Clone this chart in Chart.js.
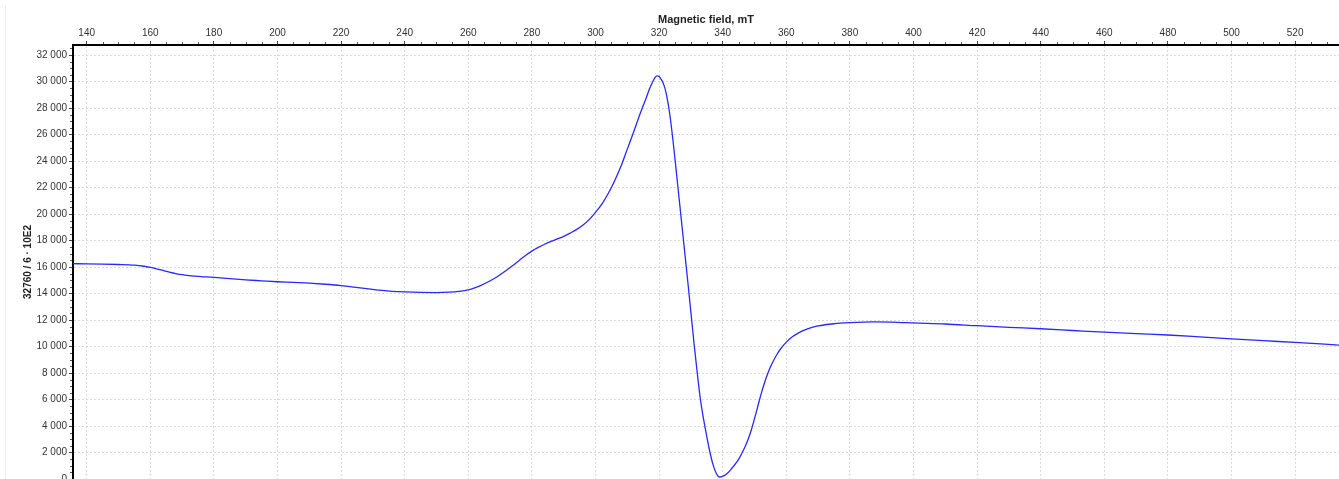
<!DOCTYPE html>
<html>
<head>
<meta charset="utf-8">
<title>EPR spectrum</title>
<script src="https://cdn.jsdelivr.net/npm/chart.js@4/dist/chart.umd.min.js"></script>
<style>
  html, body { margin: 0; padding: 0; background: #ffffff; overflow: hidden; }
  canvas { display: block; }
</style>
</head>
<body>
<canvas id="spectrum" width="1339" height="479"></canvas>
<script>
// Magnetic field sweep (mT) and recorded signal
const fieldMT = [
  135.7, 140, 145, 150, 155, 158, 160, 162, 164, 166, 168, 170, 173, 176, 180, 185,
  190, 195, 200, 205, 210, 215, 220, 224, 228, 232, 236, 240, 245, 250, 254, 257,
  260, 262, 264, 266, 268, 270, 272, 274, 276, 278, 280, 282, 284, 286, 288, 290,
  292, 294, 296, 298, 300, 302, 304, 306, 308, 310, 312, 314, 316, 317, 318, 318.7,
  319.3, 320, 320.7, 321.5, 322.2, 322.9, 323.6, 324.3, 325, 326, 327, 328, 329, 330,
  331, 332, 333, 334, 335, 336, 337, 338, 339, 340, 341, 342, 343, 344, 345, 346,
  347, 348, 349, 350, 351, 352, 353, 354, 355, 356, 357, 358.3, 360, 362, 364, 366.7,
  370, 375, 380, 387.6, 395, 400, 410, 420, 430, 440, 450, 460, 470, 480, 490, 500,
  510, 520, 533.8
];
const signal = [
  16250, 16240, 16220, 16190, 16140, 16060, 15970, 15860, 15740, 15620, 15510, 15420, 15330, 15280, 15220, 15120,
  15030, 14960, 14890, 14840, 14780, 14700, 14600, 14490, 14370, 14250, 14170, 14120, 14080, 14070, 14100, 14160,
  14270, 14420, 14620, 14850, 15120, 15420, 15760, 16120, 16500, 16870, 17200, 17480, 17720, 17930, 18120, 18320,
  18560, 18820, 19150, 19580, 20130, 20750, 21550, 22500, 23600, 24900, 26200, 27550, 28800, 29450, 29980, 30300,
  30430, 30380, 30150, 29750, 29150, 28250, 27100, 25700, 24150, 21850, 19550, 17250, 14950, 12600,
  10200, 8000, 6000, 4500, 3200, 2000, 1050, 420, 150, 200, 340, 560, 850, 1150, 1480, 1930,
  2420, 3000, 3700, 4550, 5450, 6350, 7150, 7850, 8450, 8950, 9380, 9850, 10330, 10750, 11050, 11330,
  11550, 11720, 11800, 11860, 11830, 11780, 11700, 11570, 11450, 11340, 11210, 11080, 10970, 10870, 10730, 10580,
  10440, 10310, 10110
];

// Axis ranges, labelled ticks and minor tick spacing
const fieldRange = [135.7, 533.8];
const signalRange = [0, 32760];
const fieldTicks = [140, 160, 180, 200, 220, 240, 260, 280, 300, 320, 340, 360, 380, 400, 420, 440, 460, 480, 500, 520];
const signalTicks = [0, 2000, 4000, 6000, 8000, 10000, 12000, 14000, 16000, 18000, 20000, 22000, 24000, 26000, 28000, 30000, 32000];
const fieldMinorStep = 5;
const signalMinorStep = 500;

const FONT = "'Liberation Sans', Arial, Helvetica, sans-serif";

// "32 000" style thousands grouping
function groupThousands(v) {
  const s = String(Math.round(v));
  return s.replace(/\B(?=(\d{3})+(?!\d))/g, ' ');
}

// Short unlabelled ticks between the labelled ones, plus the faint frame line
const minorTicks = {
  id: 'minorTicks',
  beforeDraw(chart) {
    const ctx = chart.ctx;
    ctx.save();
    ctx.fillStyle = '#ebebeb';
    ctx.fillRect(5, 5, 1, chart.height - 5);
    ctx.restore();
  },
  afterDraw(chart) {
    const ctx = chart.ctx;
    const xs = chart.scales.x, ys = chart.scales.y;
    const area = chart.chartArea;
    ctx.save();
    ctx.strokeStyle = '#555';
    ctx.lineWidth = 1;
    ctx.beginPath();
    for (let v = Math.ceil(xs.min / fieldMinorStep) * fieldMinorStep; v <= xs.max; v += fieldMinorStep) {
      if (fieldTicks.includes(v)) continue;
      const px = Math.round(xs.getPixelForValue(v)) + 0.5;
      ctx.moveTo(px, area.top - 1);
      ctx.lineTo(px, area.top - 3);
    }
    for (let v = Math.ceil(ys.min / signalMinorStep) * signalMinorStep; v <= ys.max; v += signalMinorStep) {
      if (signalTicks.includes(v)) continue;
      const py = Math.round(ys.getPixelForValue(v)) + 0.5;
      ctx.moveTo(area.left - 1, py);
      ctx.lineTo(area.left - 3, py);
    }
    ctx.stroke();
    ctx.restore();
  }
};

const points = fieldMT.map((b, i) => ({ x: b, y: signal[i] }));

new Chart(document.getElementById('spectrum'), {
  type: 'line',
  data: {
    datasets: [{
      data: points,
      borderColor: 'rgb(40, 40, 255)',
      borderWidth: 1.3,
      pointRadius: 0,
      cubicInterpolationMode: 'monotone',
      fill: false
    }]
  },
  options: {
    responsive: false,
    animation: false,
    devicePixelRatio: 1,
    layout: { padding: 0 },
    plugins: {
      legend: { display: false },
      tooltip: { enabled: false }
    },
    scales: {
      x: {
        type: 'linear',
        position: 'top',
        min: fieldRange[0],
        max: fieldRange[1],
        afterBuildTicks(scale) { scale.ticks = fieldTicks.map(v => ({ value: v })); },
        afterFit(scale) { scale.height = 45; scale.paddingLeft = 0; scale.paddingRight = 0; },
        grid: { color: '#dadada', lineWidth: 1, tickLength: 4, tickColor: '#444' },
        border: { display: true, color: '#000', width: 2, dash: [2, 2] },
        ticks: {
          padding: 2,
          color: '#333',
          maxRotation: 0,
          autoSkip: false,
          font: { family: FONT, size: 10 },
          callback: v => String(v)
        },
        title: {
          display: true,
          text: 'Magnetic field, mT',
          color: '#222',
          font: { family: FONT, size: 11, weight: 'bold' },
          padding: { top: 13, bottom: 0 }
        }
      },
      y: {
        type: 'linear',
        position: 'left',
        min: signalRange[0],
        max: signalRange[1],
        afterBuildTicks(scale) { scale.ticks = signalTicks.map(v => ({ value: v })); },
        afterFit(scale) { scale.width = 73; scale.paddingTop = 0; scale.paddingBottom = 0; },
        grid: { color: '#dadada', lineWidth: 1, tickLength: 4, tickColor: '#444' },
        border: { display: true, color: '#000', width: 2, dash: [2, 2] },
        ticks: {
          padding: 2,
          color: '#333',
          autoSkip: false,
          font: { family: FONT, size: 10 },
          callback: v => groupThousands(v)
        },
        title: {
          display: true,
          text: '32760 / 6 · 10E2',
          color: '#222',
          font: { family: FONT, size: 10, weight: 'bold' },
          padding: { top: 22, bottom: 0 }
        }
      }
    }
  },
  plugins: [minorTicks]
});
</script>
</body>
</html>
